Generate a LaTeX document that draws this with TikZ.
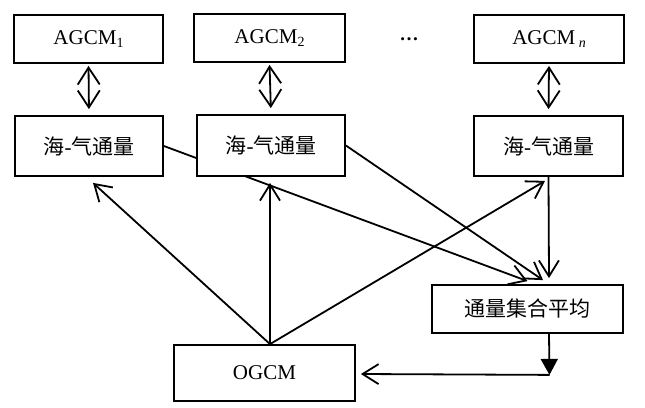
\documentclass[tikz,border=0pt]{standalone}
\usepackage{fontspec}
\setmainfont{Liberation Serif}
\newfontfamily\cjk{Noto Sans CJK SC}
\usetikzlibrary{arrows.meta,calc}
\pgfdeclarelayer{bg}
\pgfsetlayers{bg,main}
\newcommand\lowsub[1]{\raisebox{-0.3ex}{\fontsize{14}{14}\selectfont #1}}
\begin{document}
\begin{tikzpicture}[x=1pt,y=-1pt,
  box/.style={draw, line width=1.8pt, fill=white, inner sep=0pt,
    font=\fontsize{21}{24}\selectfont},
  conn/.style={line width=1.8pt,
    -{Straight Barb[length=16pt,width=20pt,line width=1.8pt]}},
  dbl/.style={line width=1.8pt,
    {Straight Barb[length=17pt,width=22pt,line width=1.8pt]}-{Straight Barb[length=17pt,width=22pt,line width=1.8pt]}},
  filled/.style={line width=1.8pt, -{Triangle[length=16pt,width=17pt]}},
]
\useasboundingbox (0,0) rectangle (645,407);

\node[box, minimum width=149, minimum height=48] (a1) at (88.5,39) {AGCM\lowsub{1}};
\node[box, minimum width=151, minimum height=48] (a2) at (269.5,38) {AGCM\lowsub{2}};
\node[box, minimum width=150, minimum height=48] (an) at (549,39) {AGCM\,\lowsub{\itshape n}};
\node[font=\fontsize{19}{19}\selectfont\bfseries] (dots) at (409,39) {…};

\node[box, minimum width=148, minimum height=60] (f1) at (89,146) {{\cjk 海}-{\cjk 气通量}};
\node[box, minimum width=148, minimum height=61] (f2) at (271,145.5) {{\cjk 海}-{\cjk 气通量}};
\node[box, minimum width=149, minimum height=60] (fn) at (548.5,146) {{\cjk 海}-{\cjk 气通量}};

\node[box, minimum width=191, minimum height=48] (av) at (527.5,309) {\cjk 通量集合平均};
\node[box, minimum width=181, minimum height=56] (og) at (264.5,373) {OGCM};

\begin{pgfonlayer}{bg}
  \fill[white] (0,0) rectangle (645,407);
  \draw[dbl, shorten <=2pt, shorten >=6pt] (a1.south) -- (f1.north);
  \draw[dbl, shorten <=2pt, shorten >=6pt] (a2.south) -- (f2.north);
  \draw[dbl, shorten <=2pt, shorten >=6pt] (an.south) -- (fn.north);

  \coordinate (O) at ($(og.north)+(5.5,0)$);
  \draw[conn] (O) -- ($(f1.south)+(4,6)$);
  \draw[conn] (O) -- ($(f2.south)+(-1,6)$);
  \draw[conn] (O) -- ($(fn.south)+(-3.5,4)$);

  \draw[conn] (fn.south) -- ($(av.north)+(21.5,-6)$);
  \draw[conn] (f1.east) -- ($(av.north)+(0,-3)$);
  \draw[conn] (f2.east) -- ($(av.north)+(15.5,-4)$);

  \coordinate (c) at ($(av.south)+(22,41)$);
  \draw[filled] ($(av.south)+(21.5,0)$) -- (c);
  \draw[conn] (c) -- ($(og.east)+(5,1)$);
\end{pgfonlayer}
\end{tikzpicture}
\end{document}
